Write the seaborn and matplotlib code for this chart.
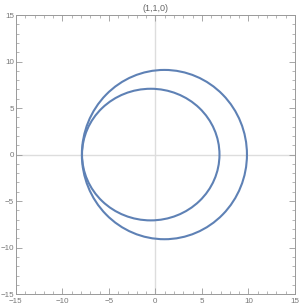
import matplotlib
matplotlib.use("Agg")
import matplotlib.pyplot as plt
from matplotlib.patches import Ellipse
from matplotlib.ticker import MultipleLocator
import seaborn as sns

# curves: centre (x, y), full width, full height
CURVE_NAMES = ["outer", "inner"]
CENTER_X = [0.97, -0.5]
CENTER_Y = [0.0, 0.0]
WIDTHS = [17.75, 14.78]
HEIGHTS = [18.2, 14.15]

TITLE = "(1,1,0)"
X_LIMITS = [-15, 15]
Y_LIMITS = [-15, 15]
MAJOR_TICKS = [-15, -10, -5, 0, 5, 10, 15]

LINE_COLOR = "#5E81B5"
FRAME_COLOR = "#999999"
LABEL_COLOR = "#777777"

sns.set_theme(style="white")
plt.rcParams['font.family'] = ['Liberation Sans', 'DejaVu Sans']

fig = plt.figure(figsize=(3.0, 3.07), dpi=100)
ax = fig.add_axes([0.053, 0.042, 0.930, 0.909])

# Mathematica-style axes through the origin
ax.axhline(0, color="#dddddd", lw=1.0, zorder=0)
ax.axvline(0, color="#dddddd", lw=1.0, zorder=0)

for name, cx, cy, w, h in zip(CURVE_NAMES, CENTER_X, CENTER_Y, WIDTHS, HEIGHTS):
    ax.add_patch(Ellipse((cx, cy), w, h, fill=False, edgecolor=LINE_COLOR, lw=1.5, zorder=3))

ax.set_xlim(X_LIMITS)
ax.set_ylim(Y_LIMITS)
ax.set_xticks(MAJOR_TICKS)
ax.set_yticks(MAJOR_TICKS)
ax.xaxis.set_minor_locator(MultipleLocator(1))
ax.yaxis.set_minor_locator(MultipleLocator(1))
ax.tick_params(which="both", direction="in", colors=FRAME_COLOR, labelcolor=LABEL_COLOR,
               top=True, right=True, labeltop=False, labelright=False,
               bottom=True, left=True)
ax.tick_params(which="major", length=4, width=0.6, labelsize=5.8, pad=1.2)
ax.tick_params(axis="x", which="major", pad=2.6)
ax.tick_params(which="minor", length=2, width=0.5)
for spine in ax.spines.values():
    spine.set_edgecolor(FRAME_COLOR)
    spine.set_linewidth(0.7)

ax.set_title(TITLE, fontsize=6.5, color="#666666", pad=3)

fig.savefig("out.png", dpi=100)
